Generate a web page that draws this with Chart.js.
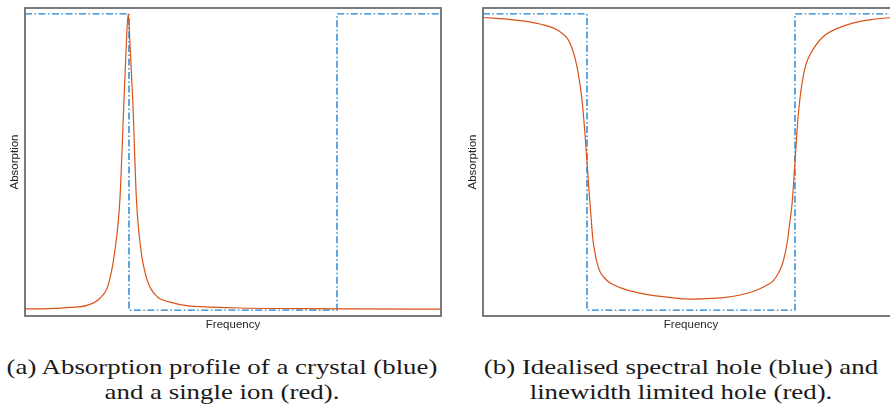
<!DOCTYPE html>
<html>
<head>
<meta charset="utf-8">
<script src="https://cdn.jsdelivr.net/npm/chart.js@4.4.0/dist/chart.umd.min.js"></script>
<style>
  html, body { margin: 0; padding: 0; background: #fff; overflow: hidden; width: 890px; height: 414px; }
  .panel { position: absolute; top: 0; width: 450px; height: 340px; }
  .caption { position: absolute; width: 440px; text-align: center; font-family: "Liberation Serif", serif;
             font-size: 22px; line-height: 25px; color: #1a1a1a; transform: scaleX(1.22); transform-origin: 50% 50%; }
</style>
</head>
<body>
<div class="panel" style="left:0px"><canvas id="chartA"></canvas></div>
<div class="panel" style="left:458px"><canvas id="chartB"></canvas></div>
<div class="caption" style="left:2px; top:354px">(a) Absorption profile of a crystal (blue)<br>and a single ion (red).</div>
<div class="caption" style="left:461px; top:354px">(b) Idealised spectral hole (blue) and<br>linewidth limited hole (red).</div>
<script>
// Step profiles (blue): frequency breakpoints and absorption level
const stepFreq = [0, 25, 25, 75, 75, 100];
const crystalProfile = [1, 1, 0, 0, 1, 1];
const idealHole = [1, 1, 0, 0, 1, 1];

// Single ion line (red), panel (a)
const freqA = [0, 6.0, 10.8, 14.9, 18.0, 20.0, 21.6, 22.8, 23.8, 24.3, 24.8, 25.3, 25.9, 26.8, 27.9, 29.4, 31.7, 34.9, 38.9, 45, 51.7, 66, 80, 100];
const ionAbsorption = [0.004, 0.005, 0.009, 0.016, 0.04, 0.085, 0.20, 0.37, 0.71, 0.88, 1.0, 0.88, 0.71, 0.37, 0.20, 0.10, 0.046, 0.027, 0.015, 0.010, 0.007, 0.005, 0.004, 0.003];

// Linewidth limited hole (red), panel (b)
const freqB = [0, 7.2, 13.7, 18.5, 20.9, 22.6, 23.8, 24.5, 25.0, 25.5, 26.0, 26.4, 26.9, 27.4, 28.1, 29.1, 30.5, 32.9, 37.7, 45.7, 49.8,
               54.1, 57.7, 61.8, 65.9, 68.5, 69.7, 70.9, 71.9, 72.6, 73.2, 73.7, 74.3, 75.0, 75.5, 76.0, 76.7, 77.6, 78.6, 81.7, 87.5, 93.0, 100];
const holeAbsorption = [0.988, 0.980, 0.966, 0.940, 0.902, 0.821, 0.709, 0.598, 0.50, 0.40, 0.31, 0.24, 0.195, 0.16, 0.13, 0.11, 0.092, 0.076, 0.057, 0.041, 0.037,
                        0.039, 0.042, 0.051, 0.068, 0.086, 0.098, 0.122, 0.152, 0.19, 0.235, 0.29, 0.36, 0.50, 0.61, 0.69, 0.767, 0.828, 0.862, 0.922, 0.963, 0.980, 0.990];

const BLUE = '#1f80cf';
const RED = '#d95319';
const AXIS_FONT = { family: '"Liberation Sans", Arial, sans-serif', size: 11.5 };

// Grey box around the plotting area
const framePlugin = {
  id: 'frame',
  afterDatasetsDraw(chart) {
    const { ctx, chartArea: a } = chart;
    ctx.save();
    ctx.strokeStyle = '#6e6e6e';
    ctx.lineWidth = 1.8;
    ctx.strokeRect(a.left, a.top, a.right - a.left, a.bottom - a.top);
    ctx.restore();
  }
};

function pairs(xs, ys) { return xs.map((x, i) => ({ x: x, y: ys[i] })); }

function makeChart(id, stepLevels, curveX, curveY) {
  return new Chart(document.getElementById(id), {
    type: 'line',
    data: {
      datasets: [
        { data: pairs(curveX, curveY), borderColor: RED, borderWidth: 1.2, pointRadius: 0,
          cubicInterpolationMode: 'monotone', order: 1 },
        { data: pairs(stepFreq, stepLevels), borderColor: BLUE, borderWidth: 1.4, pointRadius: 0,
          borderDash: [7, 2.5, 1.5, 2.5], tension: 0, order: 2 }
      ]
    },
    options: {
      responsive: true,
      maintainAspectRatio: false,
      animation: false,
      layout: { padding: { left: 5.2, top: 8, right: 9, bottom: 4.2 } },
      plugins: { legend: { display: false }, tooltip: { enabled: false } },
      scales: {
        x: {
          type: 'linear', min: 0, max: 100,
          ticks: { display: false },
          grid: { display: false, drawTicks: false },
          border: { display: false },
          title: { display: true, text: 'Frequency', font: AXIS_FONT, color: '#262626', padding: { top: 1.5, bottom: 4.5 } }
        },
        y: {
          type: 'linear', min: -0.02, max: 1.02,
          ticks: { display: false },
          grid: { display: false, drawTicks: false },
          border: { display: false },
          title: { display: true, text: 'Absorption', font: AXIS_FONT, color: '#262626', padding: { top: 3, bottom: 3 } }
        }
      }
    },
    plugins: [framePlugin]
  });
}

makeChart('chartA', crystalProfile, freqA, ionAbsorption);
makeChart('chartB', idealHole, freqB, holeAbsorption);
</script>
</body>
</html>
